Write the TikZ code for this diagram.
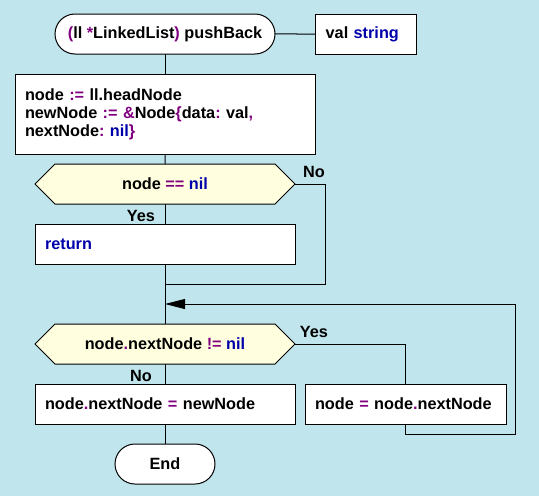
\documentclass[tikz,border=0pt]{standalone}
\usepackage{fontspec}
\setmainfont{Liberation Sans}
\usepackage{xcolor}
\usepackage{tikz}
\usetikzlibrary{calc,shapes,shapes.misc,shapes.symbols,arrows.meta,positioning}
\definecolor{Sky}{RGB}{193,229,236}
\definecolor{Cream}{RGB}{255,255,224}
\definecolor{Plum}{RGB}{128,0,128}
\definecolor{Navy}{RGB}{0,0,170}
\newcommand{\op}[1]{\textcolor{Plum}{#1}}
\newcommand{\kw}[1]{\textcolor{Navy}{#1}}
\frenchspacing

\begin{document}
\begin{tikzpicture} [x=0.75pt, y=-0.75pt, line width=0.75pt, black, text=black,
	   >={Triangle[length=15pt,width=7.5pt]},
	   every node/.style={font=\fontsize{12.2}{13.4}\selectfont\bfseries, outer sep=0pt},
	   terminal/.style = {rounded rectangle, draw, fill=white,
	                      minimum width=#1, minimum height=30pt, inner sep=0pt},
	   action/.style 2 args = {rectangle, draw, fill=white, minimum width=#1,
	                           minimum height=30pt, inner xsep=7.5pt, text width=#2, align=left},
	   decision/.style = {signal, signal to=east and west, signal pointer angle=90,
	                      draw, fill=Cream, minimum width=195pt, minimum height=30pt, inner sep=0pt},
	   flag/.style = {inner sep=0pt, anchor=south}]
	%% Background
	\fill[Sky] (0,0) rectangle (539,496);

	%% Header
	\node [terminal={165pt}] (start) at (165,34) {\op{(}ll \op{*}LinkedList\op{)} pushBack};
	\node [action={75.75pt}{60pt}, inner xsep=8pt, right=30pt of start] (args) {val \kw{string}};

	%% Body
	\node [action={225pt}{210pt}, minimum height=60pt, below=15pt of start] (init)
	      {node \op{:=} ll.headNode\\
	       newNode \op{:= \&}Node\op{\{}data\op{:} val\op{,}\\
	       nextNode\op{:} \kw{nil}\op{\}}};
	\node [decision, below=7.5pt of init] (test) {node \op{==} \kw{nil}};
	\node [action={195pt}{180pt}, below=15pt of test] (ret) {\kw{return}};
	\coordinate (merge) at ($(ret.south)+(0,20)$);
	\coordinate (back) at ($(ret.south)+(0,40)$);
	\node [decision, below=45pt of ret] (loop) {node\op{.}nextNode \op{!=} \kw{nil}};
	\node [action={195pt}{180pt}, below=15pt of loop] (link) {node\op{.}nextNode \op{=} newNode};
	\node [action={150.75pt}{135.75pt}, right=7.5pt of link] (step) {node \op{=} node\op{.}nextNode};
	\node [terminal={75pt}, below=15pt of link] (end) {End};

	%% Simple paths
	\draw (start) -- (args);
	\draw (start) -- (init);
	\draw (init) -- (test);
	\draw (test) -- (ret) node[flag, pos=1, xshift=-18pt, yshift=1.5pt] {Yes};
	\draw (ret) -- (loop);
	\draw (loop) -- (link) node[flag, pos=1, xshift=-18pt, yshift=1.5pt] {No};
	\draw (link) -- (end);

	%% Branches and loop back
	\draw (test.east) -- ++(30,0) node[flag, pos=0, xshift=14.25pt, yshift=4.5pt] {No} |- (merge);
	\draw (loop.east) -| (step.north) node[flag, pos=0, xshift=14.25pt, yshift=4.5pt] {Yes};
	\draw[->] (step.south) -- ++(0,10) -| ($(back)+(350,0)$) -- (back);
\end{tikzpicture}
\end{document}
